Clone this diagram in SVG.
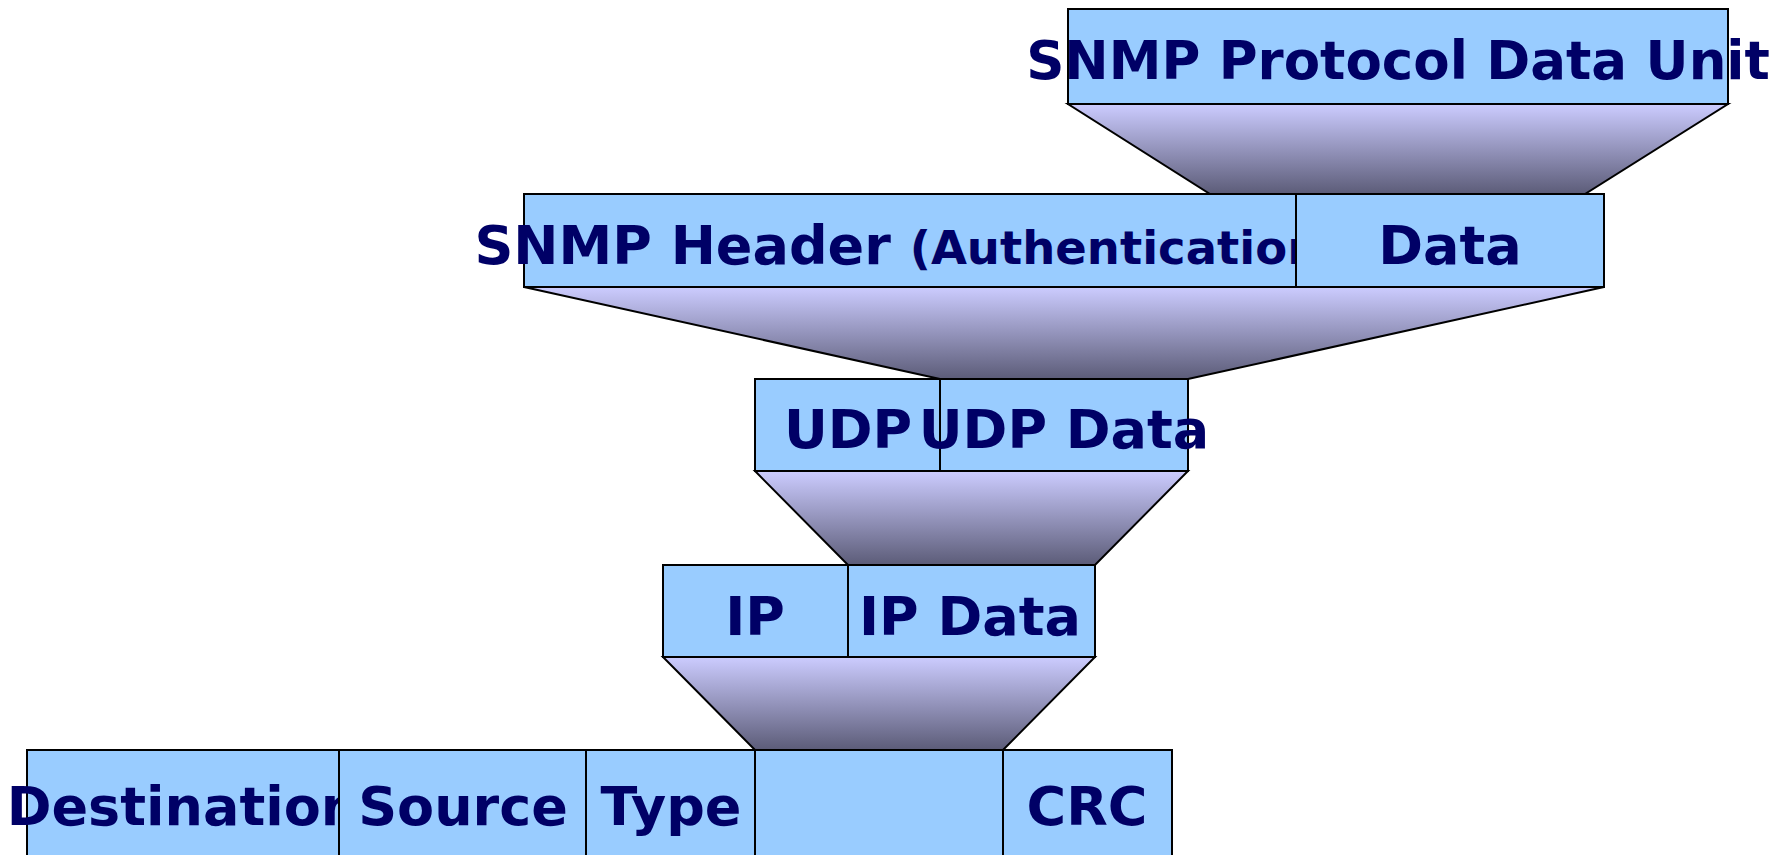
<svg xmlns="http://www.w3.org/2000/svg" width="1789" height="855" viewBox="0 0 1789 855">
<defs>
<linearGradient id="fun" x1="0" y1="0" x2="0" y2="1">
<stop offset="0" stop-color="#ccccff"/>
<stop offset="1" stop-color="#5c5c78"/>
</linearGradient>
<style>
.box{fill:#99ccff;stroke:#000;stroke-width:2}
.fun{fill:url(#fun);stroke:#000;stroke-width:2;stroke-linejoin:miter}
.t{font-family:"DejaVu Sans","Liberation Sans",sans-serif;font-weight:bold;font-size:54px;fill:#000066;text-anchor:middle}
.s{font-size:46.5px}
.top{font-size:53px}
</style>
</defs>
<rect width="1789" height="855" fill="#fff"/>
<g id="connectors">
<polygon class="fun" points="1068,104 1728,104 1585,194 1210,194"/>
<polygon class="fun" points="524,287 1604,287 1188,379 940,379"/>
<polygon class="fun" points="755,471 1188,471 1095,565 848,565"/>
<polygon class="fun" points="663,657 1095,657 1003,750 755,750"/>
</g>
<g id="pdu">
<rect class="box" x="1068" y="9" width="660" height="95"/>
<text class="t top" x="1398" y="79">SNMP Protocol Data Unit</text>
</g>
<g id="snmp-header">
<rect class="box" x="524" y="194" width="772" height="93"/>
<text class="t" x="908" y="264">SNMP Header <tspan class="s">(Authentication)</tspan></text>
</g>
<g id="snmp-data">
<rect class="box" x="1296" y="194" width="308" height="93"/>
<text class="t" x="1450" y="264">Data</text>
</g>
<g id="udp">
<rect class="box" x="755" y="379" width="185" height="92"/>
<text class="t" x="848" y="448">UDP</text>
</g>
<g id="udp-data">
<rect class="box" x="940" y="379" width="248" height="92"/>
<text class="t" x="1064" y="448">UDP Data</text>
</g>
<g id="ip">
<rect class="box" x="663" y="565" width="185" height="92"/>
<text class="t" x="755" y="635">IP</text>
</g>
<g id="ip-data">
<rect class="box" x="848" y="565" width="247" height="92"/>
<text class="t" x="970" y="635">IP Data</text>
</g>
<g id="destination">
<rect class="box" x="27" y="750" width="312" height="120"/>
<text class="t" x="183" y="825">Destination</text>
</g>
<g id="source">
<rect class="box" x="339" y="750" width="247" height="120"/>
<text class="t" x="463" y="825">Source</text>
</g>
<g id="type">
<rect class="box" x="586" y="750" width="169" height="120"/>
<text class="t" x="671" y="825">Type</text>
</g>
<g id="frame-data">
<rect class="box" x="755" y="750" width="248" height="120"/>
</g>
<g id="crc">
<rect class="box" x="1003" y="750" width="169" height="120"/>
<text class="t" x="1087" y="825">CRC</text>
</g>
</svg>
